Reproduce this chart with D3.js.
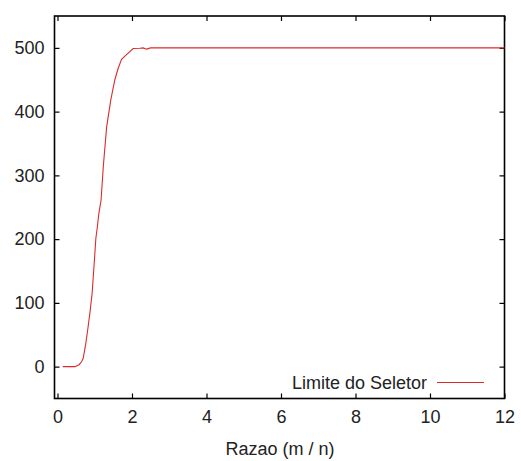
<!DOCTYPE html>
<html><head><meta charset="utf-8">
<script src="https://cdn.jsdelivr.net/npm/d3@7"></script>
<style>
html,body{margin:0;padding:0;background:#fff;}
svg{display:block;}
text{font-family:"Liberation Sans",Arial,sans-serif;fill:#222;}
</style></head>
<body><svg id="c" width="521" height="461"></svg>
<script>
// Data
const seriesName = "Limite do Seletor";
const xValues = [0.14,0.3,0.47,0.58,0.65,0.69,0.76,0.81,0.87,0.93,0.98,1.03,1.07,1.11,1.17,1.23,1.32,1.43,1.54,1.63,1.72,1.81,1.92,2.03,2.21,2.3,2.39,2.5,3,4,5,6,7,8,9,10,11,12];
const yValues = [0,0,0,3,8,13,36,57,84,115,157,201,219,240,261,314,376,418,450,468,482,487,493,499,499.5,500,498,500,500,500,500,500,500,500,500,500,500,500];
const xTicks = [0,2,4,6,8,10,12];
const yTicks = [0,100,200,300,400,500];
const xLabel = "Razao (m / n)";

const svg = d3.select("#c");
const L=54.5, R=504.5, T=16, B=398.5;
const x = d3.scaleLinear().domain([-0.08,12]).range([L,R]);
const y = d3.scaleLinear().domain([-50,550]).range([B,T]);
const FS = 18;

// axes (ticks inside)
const ax = svg.append("g").attr("transform",`translate(0,${B})`)
  .call(d3.axisBottom(x).tickValues(xTicks).tickSize(-5).tickPadding(12).tickFormat(d3.format("d")));
const axTop = svg.append("g").attr("transform",`translate(0,${T})`)
  .call(d3.axisTop(x).tickValues(xTicks).tickSize(-5).tickFormat(""));
const ay = svg.append("g").attr("transform",`translate(${L},0)`)
  .call(d3.axisLeft(y).tickValues(yTicks).tickSize(-5).tickPadding(10).tickFormat(d3.format("d")));
const ayR = svg.append("g").attr("transform",`translate(${R},0)`)
  .call(d3.axisRight(y).tickValues(yTicks).tickSize(-5).tickFormat(""));
[ax,axTop,ay,ayR].forEach(g=>{
  g.select(".domain").remove();
  g.selectAll(".tick line").attr("stroke","#000").attr("stroke-width",1.2);
  g.selectAll("text").style("font-size",FS+"px").attr("fill","#222").style("font-family","'Liberation Sans',Arial,sans-serif");
});

// frame
svg.append("rect").attr("x",L).attr("y",T).attr("width",R-L).attr("height",B-T)
  .attr("fill","none").attr("stroke","#000").attr("stroke-width",1.6);

// line
const data = xValues.map((v,i)=>[v,yValues[i]]);
svg.append("path").datum(data)
  .attr("fill","none").attr("stroke","#dd2a2a").attr("stroke-width",1.1)
  .attr("d", d3.line().x(d=>x(d[0])).y(d=>y(d[1])));

// legend
svg.append("text").attr("x",427).attr("y",382.5).attr("dy","0.35em")
  .attr("text-anchor","end").style("font-size",FS+"px").text(seriesName);
svg.append("line").attr("x1",437).attr("x2",484).attr("y1",382.5).attr("y2",382.5)
  .attr("stroke","#dd2a2a").attr("stroke-width",1.1);

// x label
svg.append("text").attr("x",280).attr("y",455).attr("text-anchor","middle")
  .style("font-size",FS+"px").text(xLabel);
</script></body></html>
